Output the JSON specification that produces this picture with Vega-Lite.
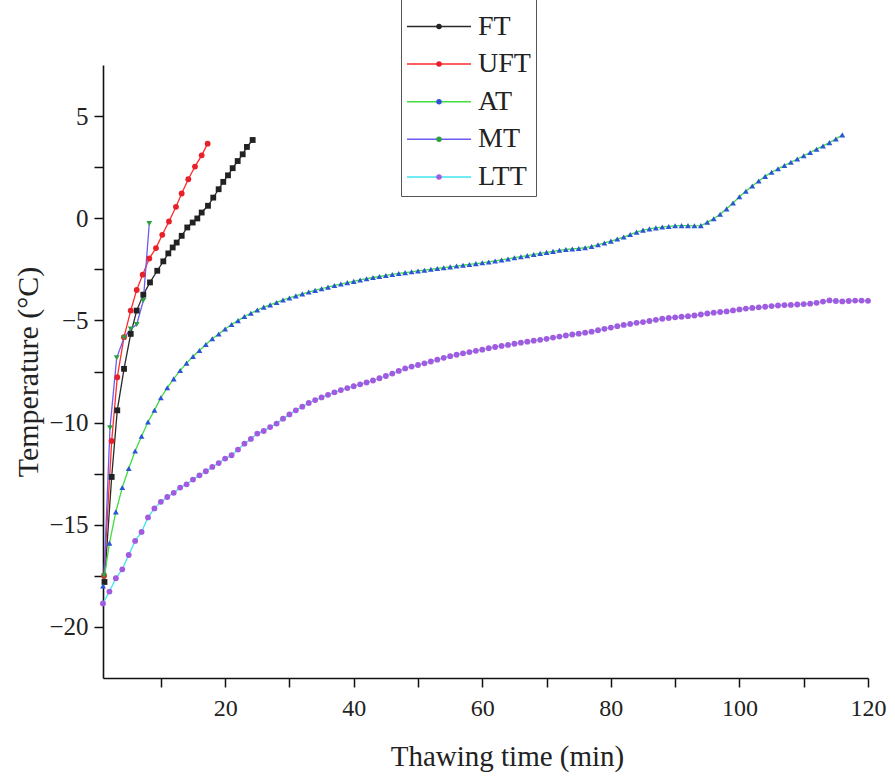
{
  "$schema": "https://vega.github.io/schema/vega-lite/v6.json",
  "autosize": "none",
  "width": 765,
  "height": 613,
  "padding": {"left": 103, "top": 65, "right": 27, "bottom": 102},
  "background": "white",
  "config": {"view": {"stroke": null}, "font": "Liberation Serif"},
  "data": {"values": [
    {"s":"FT","t":1.23,"v":-17.8},{"s":"FT","t":2.35,"v":-12.66},{"s":"FT","t":3.22,"v":-9.4},{"s":"FT","t":4.27,"v":-7.37},{"s":"FT","t":5.31,"v":-5.66},{"s":"FT","t":6.24,"v":-4.52},{"s":"FT","t":7.27,"v":-3.74},{"s":"FT","t":8.31,"v":-3.14},{"s":"FT","t":9.44,"v":-2.57},{"s":"FT","t":10.38,"v":-2.11},{"s":"FT","t":11.16,"v":-1.72},{"s":"FT","t":11.84,"v":-1.43},{"s":"FT","t":12.46,"v":-1.19},{"s":"FT","t":13.24,"v":-0.86},{"s":"FT","t":14.11,"v":-0.45},{"s":"FT","t":14.95,"v":-0.21},{"s":"FT","t":15.67,"v":-0.01},{"s":"FT","t":16.35,"v":0.28},{"s":"FT","t":17.33,"v":0.61},{"s":"FT","t":18.15,"v":1.01},{"s":"FT","t":18.99,"v":1.42},{"s":"FT","t":19.71,"v":1.78},{"s":"FT","t":20.44,"v":2.1},{"s":"FT","t":21.17,"v":2.45},{"s":"FT","t":21.95,"v":2.8},{"s":"FT","t":22.73,"v":3.13},{"s":"FT","t":23.39,"v":3.49},{"s":"FT","t":24.28,"v":3.83},
    {"s":"UFT","t":1.16,"v":-17.5},{"s":"UFT","t":2.35,"v":-10.9},{"s":"UFT","t":3.22,"v":-7.78},{"s":"UFT","t":4.27,"v":-5.82},{"s":"UFT","t":5.31,"v":-4.52},{"s":"UFT","t":6.24,"v":-3.51},{"s":"UFT","t":7.17,"v":-2.76},{"s":"UFT","t":8.2,"v":-1.97},{"s":"UFT","t":9.24,"v":-1.46},{"s":"UFT","t":10.22,"v":-0.81},{"s":"UFT","t":11.26,"v":-0.16},{"s":"UFT","t":12.35,"v":0.56},{"s":"UFT","t":13.24,"v":1.21},{"s":"UFT","t":14.27,"v":1.91},{"s":"UFT","t":15.31,"v":2.53},{"s":"UFT","t":16.35,"v":3.08},{"s":"UFT","t":17.28,"v":3.65},
    {"s":"MT","t":1.16,"v":-17.5},{"s":"MT","t":2.09,"v":-10.25},{"s":"MT","t":3.13,"v":-6.83},{"s":"MT","t":4.27,"v":-5.85},{"s":"MT","t":5.31,"v":-5.42},{"s":"MT","t":6.24,"v":-5.2},{"s":"MT","t":7.27,"v":-4.03},{"s":"MT","t":8.2,"v":-0.26},
    {"s":"AT","t":1,"v":-18.0},{"s":"AT","t":2,"v":-15.9},{"s":"AT","t":3,"v":-14.37},{"s":"AT","t":4,"v":-13.18},{"s":"AT","t":5,"v":-12.25},{"s":"AT","t":6,"v":-11.39},{"s":"AT","t":7,"v":-10.67},{"s":"AT","t":8,"v":-9.97},{"s":"AT","t":9,"v":-9.4},{"s":"AT","t":10,"v":-8.78},
    {"s":"AT","t":11,"v":-8.3},{"s":"AT","t":12,"v":-7.86},{"s":"AT","t":13,"v":-7.45},{"s":"AT","t":14,"v":-7.09},{"s":"AT","t":15,"v":-6.77},{"s":"AT","t":16,"v":-6.47},{"s":"AT","t":17,"v":-6.18},{"s":"AT","t":18,"v":-5.9},{"s":"AT","t":19,"v":-5.66},{"s":"AT","t":20,"v":-5.42},
    {"s":"AT","t":21,"v":-5.2},{"s":"AT","t":22,"v":-5.01},{"s":"AT","t":23,"v":-4.81},{"s":"AT","t":24,"v":-4.65},{"s":"AT","t":25,"v":-4.49},{"s":"AT","t":26,"v":-4.35},{"s":"AT","t":27,"v":-4.24},{"s":"AT","t":28,"v":-4.12},{"s":"AT","t":29,"v":-4.0},{"s":"AT","t":30,"v":-3.9},
    {"s":"AT","t":31,"v":-3.8},{"s":"AT","t":32,"v":-3.7},{"s":"AT","t":33,"v":-3.61},{"s":"AT","t":34,"v":-3.53},{"s":"AT","t":35,"v":-3.45},{"s":"AT","t":36,"v":-3.37},{"s":"AT","t":37,"v":-3.29},{"s":"AT","t":38,"v":-3.22},{"s":"AT","t":39,"v":-3.15},{"s":"AT","t":40,"v":-3.09},
    {"s":"AT","t":41,"v":-3.02},{"s":"AT","t":42,"v":-2.96},{"s":"AT","t":43,"v":-2.9},{"s":"AT","t":44,"v":-2.85},{"s":"AT","t":45,"v":-2.8},{"s":"AT","t":46,"v":-2.75},{"s":"AT","t":47,"v":-2.7},{"s":"AT","t":48,"v":-2.66},{"s":"AT","t":49,"v":-2.62},{"s":"AT","t":50,"v":-2.58},
    {"s":"AT","t":51,"v":-2.54},{"s":"AT","t":52,"v":-2.5},{"s":"AT","t":53,"v":-2.46},{"s":"AT","t":54,"v":-2.42},{"s":"AT","t":55,"v":-2.38},{"s":"AT","t":56,"v":-2.34},{"s":"AT","t":57,"v":-2.3},{"s":"AT","t":58,"v":-2.26},{"s":"AT","t":59,"v":-2.22},{"s":"AT","t":60,"v":-2.18},
    {"s":"AT","t":61,"v":-2.14},{"s":"AT","t":62,"v":-2.09},{"s":"AT","t":63,"v":-2.04},{"s":"AT","t":64,"v":-1.99},{"s":"AT","t":65,"v":-1.93},{"s":"AT","t":66,"v":-1.88},{"s":"AT","t":67,"v":-1.83},{"s":"AT","t":68,"v":-1.77},{"s":"AT","t":69,"v":-1.72},{"s":"AT","t":70,"v":-1.67},
    {"s":"AT","t":71,"v":-1.62},{"s":"AT","t":72,"v":-1.57},{"s":"AT","t":73,"v":-1.53},{"s":"AT","t":74,"v":-1.5},{"s":"AT","t":75,"v":-1.48},{"s":"AT","t":76,"v":-1.44},{"s":"AT","t":77,"v":-1.38},{"s":"AT","t":78,"v":-1.3},{"s":"AT","t":79,"v":-1.21},{"s":"AT","t":80,"v":-1.12},
    {"s":"AT","t":81,"v":-1.02},{"s":"AT","t":82,"v":-0.92},{"s":"AT","t":83,"v":-0.8},{"s":"AT","t":84,"v":-0.68},{"s":"AT","t":85,"v":-0.58},{"s":"AT","t":86,"v":-0.52},{"s":"AT","t":87,"v":-0.47},{"s":"AT","t":88,"v":-0.43},{"s":"AT","t":89,"v":-0.4},{"s":"AT","t":90,"v":-0.37},
    {"s":"AT","t":91,"v":-0.36},{"s":"AT","t":92,"v":-0.36},{"s":"AT","t":93,"v":-0.37},{"s":"AT","t":94,"v":-0.36},{"s":"AT","t":95,"v":-0.2},{"s":"AT","t":96,"v":-0.02},{"s":"AT","t":97,"v":0.2},{"s":"AT","t":98,"v":0.46},{"s":"AT","t":99,"v":0.75},{"s":"AT","t":100,"v":1.05},
    {"s":"AT","t":101,"v":1.32},{"s":"AT","t":102,"v":1.58},{"s":"AT","t":103,"v":1.82},{"s":"AT","t":104,"v":2.05},{"s":"AT","t":105,"v":2.25},{"s":"AT","t":106,"v":2.42},{"s":"AT","t":107,"v":2.58},{"s":"AT","t":108,"v":2.74},{"s":"AT","t":109,"v":2.9},{"s":"AT","t":110,"v":3.06},
    {"s":"AT","t":111,"v":3.22},{"s":"AT","t":112,"v":3.38},{"s":"AT","t":113,"v":3.54},{"s":"AT","t":114,"v":3.7},{"s":"AT","t":115,"v":3.88},{"s":"AT","t":116,"v":4.08},
    {"s":"LTT","t":1,"v":-18.85},{"s":"LTT","t":2,"v":-18.27},{"s":"LTT","t":3,"v":-17.62},{"s":"LTT","t":4,"v":-17.18},{"s":"LTT","t":5,"v":-16.48},{"s":"LTT","t":6,"v":-15.79},{"s":"LTT","t":7,"v":-15.35},{"s":"LTT","t":8,"v":-14.64},{"s":"LTT","t":9,"v":-14.2},{"s":"LTT","t":10,"v":-13.88},
    {"s":"LTT","t":11,"v":-13.64},{"s":"LTT","t":12,"v":-13.44},{"s":"LTT","t":13,"v":-13.18},{"s":"LTT","t":14,"v":-13.02},{"s":"LTT","t":15,"v":-12.79},{"s":"LTT","t":16,"v":-12.58},{"s":"LTT","t":17,"v":-12.38},{"s":"LTT","t":18,"v":-12.17},{"s":"LTT","t":19,"v":-11.98},{"s":"LTT","t":20,"v":-11.76},
    {"s":"LTT","t":21,"v":-11.6},{"s":"LTT","t":22,"v":-11.32},{"s":"LTT","t":23,"v":-11.03},{"s":"LTT","t":24,"v":-10.8},{"s":"LTT","t":25,"v":-10.54},{"s":"LTT","t":26,"v":-10.41},{"s":"LTT","t":27,"v":-10.22},{"s":"LTT","t":28,"v":-10.05},{"s":"LTT","t":29,"v":-9.81},{"s":"LTT","t":30,"v":-9.6},
    {"s":"LTT","t":31,"v":-9.4},{"s":"LTT","t":32,"v":-9.22},{"s":"LTT","t":33,"v":-9.04},{"s":"LTT","t":34,"v":-8.9},{"s":"LTT","t":35,"v":-8.77},{"s":"LTT","t":36,"v":-8.64},{"s":"LTT","t":37,"v":-8.52},{"s":"LTT","t":38,"v":-8.41},{"s":"LTT","t":39,"v":-8.31},{"s":"LTT","t":40,"v":-8.22},
    {"s":"LTT","t":41,"v":-8.13},{"s":"LTT","t":42,"v":-8.04},{"s":"LTT","t":43,"v":-7.94},{"s":"LTT","t":44,"v":-7.83},{"s":"LTT","t":45,"v":-7.72},{"s":"LTT","t":46,"v":-7.6},{"s":"LTT","t":47,"v":-7.47},{"s":"LTT","t":48,"v":-7.35},{"s":"LTT","t":49,"v":-7.26},{"s":"LTT","t":50,"v":-7.18},
    {"s":"LTT","t":51,"v":-7.1},{"s":"LTT","t":52,"v":-7.01},{"s":"LTT","t":53,"v":-6.92},{"s":"LTT","t":54,"v":-6.83},{"s":"LTT","t":55,"v":-6.75},{"s":"LTT","t":56,"v":-6.68},{"s":"LTT","t":57,"v":-6.61},{"s":"LTT","t":58,"v":-6.55},{"s":"LTT","t":59,"v":-6.49},{"s":"LTT","t":60,"v":-6.43},
    {"s":"LTT","t":61,"v":-6.36},{"s":"LTT","t":62,"v":-6.3},{"s":"LTT","t":63,"v":-6.25},{"s":"LTT","t":64,"v":-6.2},{"s":"LTT","t":65,"v":-6.14},{"s":"LTT","t":66,"v":-6.09},{"s":"LTT","t":67,"v":-6.04},{"s":"LTT","t":68,"v":-5.99},{"s":"LTT","t":69,"v":-5.95},{"s":"LTT","t":70,"v":-5.9},
    {"s":"LTT","t":71,"v":-5.84},{"s":"LTT","t":72,"v":-5.79},{"s":"LTT","t":73,"v":-5.74},{"s":"LTT","t":74,"v":-5.69},{"s":"LTT","t":75,"v":-5.65},{"s":"LTT","t":76,"v":-5.6},{"s":"LTT","t":77,"v":-5.55},{"s":"LTT","t":78,"v":-5.48},{"s":"LTT","t":79,"v":-5.41},{"s":"LTT","t":80,"v":-5.35},
    {"s":"LTT","t":81,"v":-5.28},{"s":"LTT","t":82,"v":-5.22},{"s":"LTT","t":83,"v":-5.17},{"s":"LTT","t":84,"v":-5.12},{"s":"LTT","t":85,"v":-5.08},{"s":"LTT","t":86,"v":-5.03},{"s":"LTT","t":87,"v":-4.97},{"s":"LTT","t":88,"v":-4.92},{"s":"LTT","t":89,"v":-4.88},{"s":"LTT","t":90,"v":-4.85},
    {"s":"LTT","t":91,"v":-4.82},{"s":"LTT","t":92,"v":-4.79},{"s":"LTT","t":93,"v":-4.76},{"s":"LTT","t":94,"v":-4.71},{"s":"LTT","t":95,"v":-4.66},{"s":"LTT","t":96,"v":-4.62},{"s":"LTT","t":97,"v":-4.59},{"s":"LTT","t":98,"v":-4.56},{"s":"LTT","t":99,"v":-4.51},{"s":"LTT","t":100,"v":-4.46},
    {"s":"LTT","t":101,"v":-4.42},{"s":"LTT","t":102,"v":-4.39},{"s":"LTT","t":103,"v":-4.36},{"s":"LTT","t":104,"v":-4.33},{"s":"LTT","t":105,"v":-4.3},{"s":"LTT","t":106,"v":-4.27},{"s":"LTT","t":107,"v":-4.25},{"s":"LTT","t":108,"v":-4.24},{"s":"LTT","t":109,"v":-4.22},{"s":"LTT","t":110,"v":-4.2},
    {"s":"LTT","t":111,"v":-4.18},{"s":"LTT","t":112,"v":-4.14},{"s":"LTT","t":113,"v":-4.08},{"s":"LTT","t":114,"v":-4.02},{"s":"LTT","t":115,"v":-4.05},{"s":"LTT","t":116,"v":-4.07},{"s":"LTT","t":117,"v":-4.05},{"s":"LTT","t":118,"v":-4.03},{"s":"LTT","t":119,"v":-4.03},{"s":"LTT","t":120,"v":-4.04}
  ]},
  "encoding": {
    "x": {"field": "t", "type": "quantitative",
      "scale": {"domain": [1, 120], "nice": false, "zero": false},
      "axis": {"values": [10,20,30,40,50,60,70,80,90,100,110,120],
        "labelExpr": "datum.value % 20 === 0 ? datum.label : ''",
        "grid": false, "labelFlush": false, "labelOverlap": false,
        "domainColor": "#111", "domainWidth": 1.6, "tickColor": "#111", "tickWidth": 1.5, "tickSize": 9,
        "labelFont": "Liberation Serif", "labelFontSize": 24, "labelColor": "#222", "labelPadding": 9,
        "title": "Thawing time (min)", "titleFont": "Liberation Serif", "titleFontSize": 29, "titleFontWeight": "normal", "titleColor": "#222", "titlePadding": 22, "titleX": 404,
        "encode": {"ticks": {"y2": {"condition": {"test": "datum.value % 20 === 0", "value": 9}, "value": 5}}}}},
    "y": {"field": "v", "type": "quantitative",
      "scale": {"domain": [-22.5, 7.5], "nice": false, "zero": false},
      "axis": {"values": [-20,-17.5,-15,-12.5,-10,-7.5,-5,-2.5,0,2.5,5],
        "labelExpr": "datum.value % 5 === 0 ? datum.label : ''",
        "grid": false, "labelFlush": false, "labelOverlap": false,
        "domainColor": "#111", "domainWidth": 1.6, "tickColor": "#111", "tickWidth": 1.5, "tickSize": 9,
        "labelFont": "Liberation Serif", "labelFontSize": 25, "labelColor": "#222", "labelPadding": 6,
        "title": "Temperature (°C)", "titleFont": "Liberation Serif", "titleFontSize": 30, "titleFontWeight": "normal", "titleColor": "#222", "titlePadding": 5,
        "encode": {"ticks": {"x2": {"condition": {"test": "datum.value % 5 === 0", "value": -9}, "value": -5}}}}}
  },
  "layer": [
    {"mark": {"type": "line", "strokeWidth": 1.3},
     "encoding": {
       "stroke": {"field": "s", "type": "nominal",
         "scale": {"domain": ["FT","UFT","AT","MT","LTT"], "range": ["#2a2a2a","#ff2a2a","#40dd40","#6a5cf0","#40e4f0"]},
         "legend": {"orient": "none", "legendX": 298, "legendY": -83, "title": " ", "titleFontSize": 20, "titlePadding": 6,
           "symbolType": "stroke", "symbolSize": 4096, "symbolStrokeWidth": 1.5, "clipHeight": 27, "rowPadding": 8.6,
           "labelFont": "Liberation Serif", "labelFontSize": 28, "labelColor": "#222", "labelOffset": 6,
           "padding": 5, "strokeColor": "#555", "fillColor": "white"}}}},
    {"mark": {"type": "point", "filled": true, "size": 34, "opacity": 1, "strokeWidth": 0},
     "encoding": {
       "fill": {"field": "s", "type": "nominal", "sort": ["FT","UFT","AT","MT","LTT"],
         "scale": {"range": ["#222222","#e8202a","#2a55d5","#2aa040","#a25be0"]},
         "legend": {"orient": "none", "legendX": 317, "legendY": -83, "title": " ", "titleFontSize": 20, "titlePadding": 6,
           "symbolSize": 30, "symbolStrokeWidth": 0, "clipHeight": 27, "rowPadding": 8.6,
           "labelFont": "Liberation Serif", "labelFontSize": 28, "labelExpr": "''", "labelOffset": 6, "padding": 5}},
       "shape": {"field": "s", "type": "nominal", "sort": ["FT","UFT","AT","MT","LTT"],
         "scale": {"range": ["square","circle","triangle-up","triangle-down","circle"]},
         "legend": null}}}
  ]
}
